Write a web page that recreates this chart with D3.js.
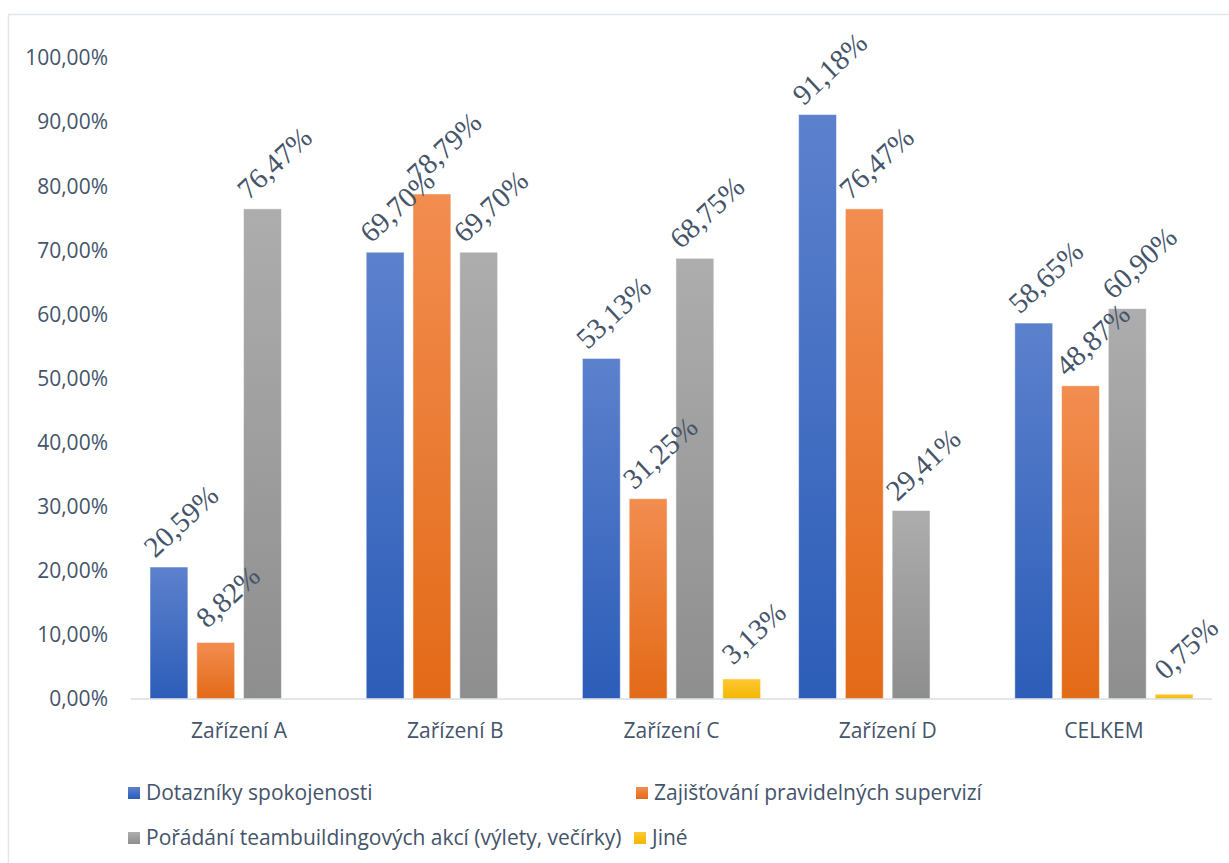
<!DOCTYPE html>
<html lang="cs">
	<head>
		<meta charset="utf-8">
		<title>Grouped bars</title>
		<script src="https://cdn.jsdelivr.net/npm/d3@7"></script>
		<style>
			body { margin: 0; background: #fff; }
			.axis-label { font-family: "Open Sans", sans-serif; font-size: 21px; fill: #44546A; }
			.value-label { font-family: "Liberation Serif", "DejaVu Serif", serif; font-size: 29px; fill: #44546A; }
			.legend-label { font-family: "Open Sans", sans-serif; font-size: 21px; fill: #44546A; }
		</style>
	</head>
	<body>
		<script>

			// data
			var categories = ["Zařízení A", "Zařízení B", "Zařízení C", "Zařízení D", "CELKEM"];
			var seriesNames = ["Dotazníky spokojenosti", "Zajišťování pravidelných supervizí",
				"Pořádání teambuildingových akcí (výlety, večírky)", "Jiné"];
			var dotazniky = [20.59, 69.70, 53.13, 91.18, 58.65];
			var supervize = [8.82, 78.79, 31.25, 76.47, 48.87];
			var teambuilding = [76.47, 69.70, 68.75, 29.41, 60.90];
			var jine = [0, 0, 3.13, 0, 0.75];
			var yTicks = [0, 10, 20, 30, 40, 50, 60, 70, 80, 90, 100];

			var seriesValues = [dotazniky, supervize, teambuilding, jine];
			// gradient top / bottom colours
			var colors = [["#5C81CD", "#2C5DB8"], ["#F28D50", "#E36A17"], ["#ADADAD", "#8E8E8E"], ["#FFC832", "#F2B700"]];

			var W = 1229, H = 863;
			var plot = {left: 131, right: 1212, top: 58, bottom: 699};

			var svg = d3.select("body").append("svg")
				.attr("width", W)
				.attr("height", H);

			var defs = svg.append("defs");
			colors.forEach(function(c, i) {
				var g = defs.append("linearGradient")
					.attr("id", "grad" + i)
					.attr("x1", 0).attr("y1", 0).attr("x2", 0).attr("y2", 1);
				g.append("stop").attr("offset", "0%").attr("stop-color", c[0]);
				g.append("stop").attr("offset", "100%").attr("stop-color", c[1]);
			});

			// chart frame
			svg.append("rect")
				.attr("x", 8.5).attr("y", 14.5)
				.attr("width", W + 10).attr("height", H + 10)
				.attr("fill", "none")
				.attr("stroke", "#E3E6EA")
				.attr("stroke-width", 1.5);

			// scales
			var x0 = d3.scaleBand()
				.domain(categories)
				.range([plot.left, plot.right]);

			var x1 = d3.scaleBand()
				.domain(d3.range(seriesNames.length))
				.range([19, x0.bandwidth() - 19])
				.paddingInner(0.19);

			var y = d3.scaleLinear()
				.domain([0, 100])
				.range([plot.bottom, plot.top]);

			var fmt = function(v) { return v.toFixed(2).replace(".", ",") + "%"; };

			// y axis labels
			svg.selectAll(".ytick")
				.data(yTicks)
				.enter().append("text")
				.attr("class", "axis-label")
				.attr("x", 108)
				.attr("y", function(d) { return y(d); })
				.attr("dy", "0.35em")
				.attr("text-anchor", "end")
				.text(function(d) { return fmt(d); });

			// bars
			var rows = [];
			categories.forEach(function(cat, ci) {
				seriesValues.forEach(function(vals, si) {
					rows.push({cat: cat, s: si, v: vals[ci]});
				});
			});

			svg.selectAll(".bar")
				.data(rows.filter(function(d) { return d.v > 0; }))
				.enter().append("rect")
				.attr("class", "bar")
				.attr("x", function(d) { return x0(d.cat) + x1(d.s); })
				.attr("y", function(d) { return y(d.v); })
				.attr("width", x1.bandwidth())
				.attr("height", function(d) { return y(0) - y(d.v); })
				.attr("fill", function(d) { return "url(#grad" + d.s + ")"; })
				.attr("stroke", "#ffffff")
				.attr("stroke-opacity", 0.5)
				.attr("stroke-width", 1);

			// baseline
			svg.append("line")
				.attr("x1", plot.left).attr("x2", plot.right)
				.attr("y1", y(0)).attr("y2", y(0))
				.attr("stroke", "#D9DDE3")
				.attr("stroke-width", 1.5);

			// category labels
			svg.selectAll(".xtick")
				.data(categories)
				.enter().append("text")
				.attr("class", "axis-label")
				.attr("x", function(d) { return x0(d) + x0.bandwidth() / 2; })
				.attr("y", 731)
				.attr("dy", "0.35em")
				.attr("text-anchor", "middle")
				.text(function(d) { return d; });

			// rotated value labels
			svg.selectAll(".value-label")
				.data(rows.filter(function(d) { return d.v > 0; }))
				.enter().append("text")
				.attr("class", "value-label")
				.attr("text-anchor", "middle")
				.attr("dominant-baseline", "central")
				.attr("transform", function(d) {
					var cx = x0(d.cat) + x1(d.s) + x1.bandwidth() / 2 + 12;
					var cy = y(d.v) - 46;
					return "translate(" + cx + "," + cy + ") rotate(-43)";
				})
				.text(function(d) { return fmt(d.v); });

			// legend
			var legendPos = [[128, 793], [636, 793], [128, 838], [634, 838]];
			var legend = svg.selectAll(".legend")
				.data(seriesNames)
				.enter().append("g")
				.attr("transform", function(d, i) { return "translate(" + legendPos[i][0] + "," + legendPos[i][1] + ")"; });

			legend.append("rect")
				.attr("x", 0).attr("y", -6)
				.attr("width", 12).attr("height", 12)
				.attr("fill", function(d, i) { return "url(#grad" + i + ")"; });

			legend.append("text")
				.attr("class", "legend-label")
				.attr("x", 18)
				.attr("dy", "0.35em")
				.text(function(d) { return d; });

		</script>
	</body>
</html>
